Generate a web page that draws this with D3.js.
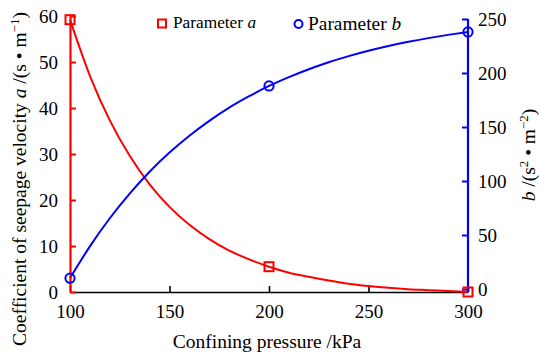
<!DOCTYPE html>
<html>
<head>
<meta charset="utf-8">
<script src="https://cdn.jsdelivr.net/npm/d3@7"></script>
<style>
  body { margin: 0; background: #fff; }
  svg { display: block; }
  .serif { font-family: "Liberation Serif"; }
</style>
</head>
<body>
<svg id="chart" width="539" height="356"></svg>
<script>
// Measured parameters at each confining pressure (kPa)
const pressures = [100, 200, 300];
const paramA = [59.2, 5.5, 0];
const paramB = [10, 188, 238];

// Fitted trend curves sampled every 10 kPa
const fitPressures = [100, 110, 120, 130, 140, 150, 160, 170, 180, 190, 200,
                      210, 220, 230, 240, 250, 260, 270, 280, 290, 300];
const fitA = [59.2, 47.0, 37.3, 29.6, 23.4, 18.5, 14.6, 11.5, 9.0, 7.1, 5.5,
              4.2, 3.3, 2.5, 1.8, 1.3, 0.9, 0.6, 0.4, 0.2, 0.0];
const fitB = [10, 39.5, 65.5, 88.4, 108.6, 126.3, 141.9, 155.7, 167.9, 178.5, 188,
              196.2, 203.5, 210.0, 215.6, 220.6, 225.0, 228.9, 232.3, 235.3, 238];

// Tick values
const xTicks = [100, 150, 200, 250, 300];
const aTicks = [0, 10, 20, 30, 40, 50, 60];
const bTicks = [0, 50, 100, 150, 200, 250];

const RED = "#ff0000", BLUE = "#0000ff";
const FONT = "Liberation Serif";
const TICK_FS = 19;
const TITLE_FS = 19.5;
const SUP_FS = 13;
const svg = d3.select("#chart");

const x = d3.scaleLinear().domain([100, 300]).range([70, 468]);
const yA = d3.scaleLinear().domain([0, 60]).range([292, 16]);
const yB = d3.scaleLinear().domain([0, 250]).range([289, 19]);

function styleTicks(g) {
  g.attr("font-family", null).attr("font-size", null).attr("class", "serif");
  g.selectAll(".tick text").attr("class", "serif")
    .style("font-family", FONT).attr("font-size", TICK_FS);
}

// Bottom axis
const gx = svg.append("g").attr("transform", `translate(0,${yA(0)})`)
  .call(d3.axisBottom(x).tickValues(xTicks).tickSizeInner(-6).tickSizeOuter(0).tickPadding(12.5));
gx.select(".domain").attr("stroke", "#000").attr("stroke-width", 1.6);
gx.selectAll(".tick line").attr("stroke", "#000").attr("stroke-width", 1.6);
styleTicks(gx);

// Fitted curves
const lineA = d3.line().x((d, i) => x(fitPressures[i])).y(d => yA(d)).curve(d3.curveMonotoneX);
const lineB = d3.line().x((d, i) => x(fitPressures[i])).y(d => yB(d)).curve(d3.curveMonotoneX);
svg.append("path").datum(fitA).attr("d", lineA)
  .attr("fill", "none").attr("stroke", RED).attr("stroke-width", 2);
svg.append("path").datum(fitB).attr("d", lineB)
  .attr("fill", "none").attr("stroke", BLUE).attr("stroke-width", 2);

// Left axis (parameter a)
const ga = svg.append("g").attr("transform", `translate(${x(100)},0)`)
  .call(d3.axisLeft(yA).tickValues(aTicks).tickSizeInner(-6).tickSizeOuter(0).tickPadding(12));
ga.select(".domain").attr("stroke", RED).attr("stroke-width", 2.2);
ga.selectAll(".tick line").attr("stroke", RED).attr("stroke-width", 2);
styleTicks(ga);

// Right axis (parameter b)
const gb = svg.append("g").attr("transform", `translate(${x(300)},0)`)
  .call(d3.axisRight(yB).tickValues(bTicks).tickSizeInner(-6).tickSizeOuter(0).tickPadding(10));
gb.select(".domain").remove();
gb.selectAll(".tick line").attr("stroke", BLUE).attr("stroke-width", 2);
styleTicks(gb);
svg.append("line")
  .attr("x1", x(300)).attr("x2", x(300)).attr("y1", yA(0)).attr("y2", yB(250))
  .attr("stroke", BLUE).attr("stroke-width", 2.2);

// Markers
const sq = 9;
svg.selectAll("rect.ma").data(paramA).join("rect").attr("class", "ma")
  .attr("x", (d, i) => x(pressures[i]) - sq / 2).attr("y", d => yA(d) - sq / 2)
  .attr("width", sq).attr("height", sq)
  .attr("fill", "none").attr("stroke", RED).attr("stroke-width", 2);
svg.selectAll("circle.mb").data(paramB).join("circle").attr("class", "mb")
  .attr("cx", (d, i) => x(pressures[i])).attr("cy", d => yB(d)).attr("r", 4.6)
  .attr("fill", "none").attr("stroke", BLUE).attr("stroke-width", 2);

// Legend
svg.append("rect").attr("x", 158).attr("y", 19.5).attr("width", 8).attr("height", 8)
  .attr("fill", "none").attr("stroke", RED).attr("stroke-width", 2);
const la = svg.append("text").attr("class", "serif").style("font-family", FONT)
  .attr("x", 173).attr("y", 27.5).attr("font-size", 17.3);
la.append("tspan").text("Parameter ");
la.append("tspan").attr("font-style", "italic").text("a");

svg.append("circle").attr("cx", 298.5).attr("cy", 24).attr("r", 4)
  .attr("fill", "none").attr("stroke", BLUE).attr("stroke-width", 2);
const lb = svg.append("text").attr("class", "serif").style("font-family", FONT)
  .attr("x", 308).attr("y", 29.5).attr("font-size", 19.4);
lb.append("tspan").text("Parameter ");
lb.append("tspan").attr("font-style", "italic").text("b");

// Axis titles
svg.append("text").attr("class", "serif").style("font-family", FONT)
  .attr("x", 267).attr("y", 348).attr("text-anchor", "middle")
  .attr("font-size", TITLE_FS).text("Confining pressure /kPa");

const ta = svg.append("text").attr("class", "serif").style("font-family", FONT)
  .attr("transform", "translate(26,179) rotate(-90)")
  .attr("text-anchor", "middle").attr("font-size", TITLE_FS);
ta.append("tspan").text("Coefficient of seepage velocity ");
ta.append("tspan").attr("font-style", "italic").text("a");
ta.append("tspan").text(" /(s \u2022 m");
ta.append("tspan").attr("font-size", SUP_FS).attr("dy", -7).text("\u22121");
ta.append("tspan").attr("dy", 7).text(")");

const tb = svg.append("text").attr("class", "serif").style("font-family", FONT)
  .attr("transform", "translate(535,155) rotate(-90)")
  .attr("text-anchor", "middle").attr("font-size", TITLE_FS);
tb.append("tspan").attr("font-style", "italic").text("b");
tb.append("tspan").text(" /(s");
tb.append("tspan").attr("font-size", SUP_FS).attr("dy", -7).text("2");
tb.append("tspan").attr("dy", 7).text(" \u2022 m");
tb.append("tspan").attr("font-size", SUP_FS).attr("dy", -7).text("\u22122");
tb.append("tspan").attr("dy", 7).text(")");
</script>
</body>
</html>
